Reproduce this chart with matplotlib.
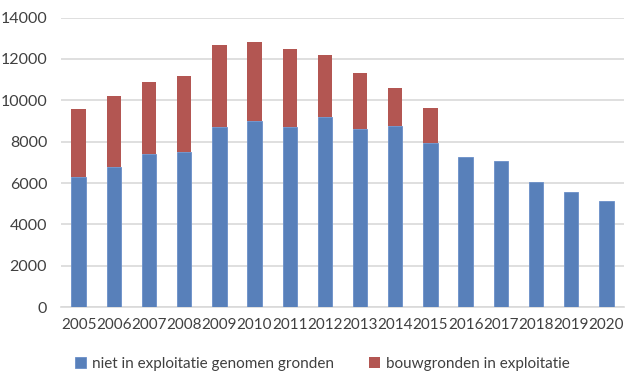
import numpy as np
import matplotlib
matplotlib.use("Agg")
import matplotlib.pyplot as plt

plt.rcParams['font.family'] = ['Lato', 'DejaVu Sans']

years = [str(y) for y in range(2005, 2021)]
niet_in_exploitatie = [6300, 6800, 7400, 7500, 8700, 9000, 8700, 9200,
                       8600, 8750, 7950, 7270, 7080, 6030, 5550, 5150]
totaal = [9600, 10200, 10900, 11200, 12700, 12800, 12500, 12200,
          11300, 10600, 9650, 7270, 7080, 6030, 5550, 5150]
bouwgronden = [t - n for t, n in zip(totaal, niet_in_exploitatie)]

blue = "#5880BA"
red = "#B35652"

fig = plt.figure(figsize=(6.39, 3.83), dpi=100)
ax = fig.add_axes([0.0955, 0.198, 0.881, 0.756])

x = np.arange(len(years))
w = 0.41
ax.bar(x, niet_in_exploitatie, w, color=blue, edgecolor="#6A8FC8", linewidth=0.6,
       label="niet in exploitatie genomen gronden", zorder=3)
ax.bar(x, bouwgronden, w, bottom=niet_in_exploitatie, color=red, linewidth=0,
       label="bouwgronden in exploitatie", zorder=3)

ax.set_xlim(-0.5, len(years) - 0.5)
ax.set_ylim(0, 14000)
ax.set_yticks(range(0, 14001, 2000))
ax.set_xticks(x)
ax.set_xticklabels(years)
ax.yaxis.grid(True, color="#D9D9D9", linewidth=1.2, zorder=0)
ax.set_axisbelow(True)
for s in ["top", "right", "left"]:
    ax.spines[s].set_visible(False)
ax.spines["bottom"].set_color("#D9D9D9")
ax.spines["bottom"].set_linewidth(1.2)
ax.tick_params(axis="both", length=0, labelsize=11, colors="#404040")
ax.tick_params(axis="y", labelsize=11.5, pad=10)
ax.tick_params(axis="x", pad=8)

fig.legend(loc="center", bbox_to_anchor=(0.505, 0.05), ncol=2, frameon=False,
           fontsize=11, handlelength=0.7, handleheight=0.7, handletextpad=0.4,
           columnspacing=2.3, labelcolor="#404040")

fig.savefig("out.png", dpi=100)
